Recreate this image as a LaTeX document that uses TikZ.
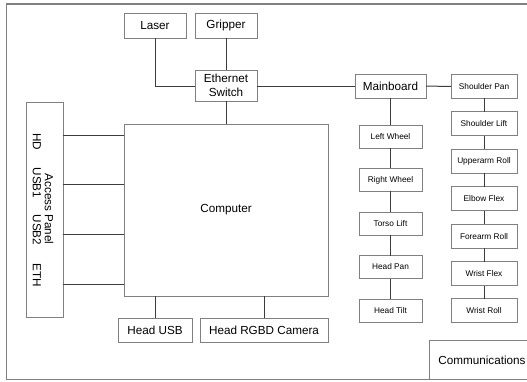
\documentclass[tikz,border=0pt]{standalone}
\usepackage{fontspec}
\setmainfont{Liberation Sans}
\usetikzlibrary{positioning, calc}
\usepackage{xcolor}

\definecolor{boxgray}{HTML}{808080}
\definecolor{linegray}{HTML}{3C3C3C}
\newcommand{\bigfont}{\fontsize{11.7}{13.5}\selectfont}
\newcommand{\smallfont}{\fontsize{8.3}{10}\selectfont}

\begin{document}
\begin{tikzpicture}[
    x=1pt, y=-1pt,
    node distance=20.5pt,
    box/.style={rectangle, draw=boxgray, line width=0.9pt, fill=white, inner sep=0pt, outer sep=0pt, align=center, font=\bigfont},
    motor/.style={box, minimum width=63pt, minimum height=23pt, font=\smallfont},
    joint/.style={motor, minimum width=66pt, minimum height=24pt},
    port/.style={inner sep=0pt, rotate=-90, font=\bigfont},
    link/.style={draw=linegray, line width=1pt},
    frame/.style={draw=boxgray, line width=1.2pt}
]

\useasboundingbox (0,0) rectangle (527,382);
\clip (0,0) rectangle (527,382);

% Frame
\draw[frame] (6.5,4) rectangle (560,379.5);

% Nodes
\node[box, minimum width=62pt, minimum height=25pt] (laser) at (155,25.5) {Laser};
\node[box, minimum width=62pt, minimum height=25pt] (gripper) at (226,25.5) {Gripper};
\node[box, minimum width=62pt, minimum height=31pt] (switch) at (226,85.5) {Ethernet\\Switch};
\node[box, minimum width=204pt, minimum height=172pt] (computer) at (226,210) {Computer};
\node[box, minimum width=37pt, minimum height=215pt] (panel) at (44.5,209.5) {};
\node[box, minimum width=74pt, minimum height=24pt] (headusb) at (155,330) {Head USB};
\node[box, minimum width=128pt, minimum height=24pt] (camera) at (264,330) {Head RGBD Camera};
\node[box, minimum width=71pt, minimum height=24pt] (mainboard) at (390.5,86) {Mainboard};
\node[box, minimum width=106pt, minimum height=39pt] (comms) at (482,360) {Communications};

% Access panel labels
\node[port] (paneltitle) at (49,209) {Access Panel};
\node[port] (hd) at (37,142) {HD};
\node[port] (usbone) at (37,183) {USB1};
\node[port] (usbtwo) at (37,230) {USB2};
\node[port] (eth) at (37,275) {ETH};

% Base motors
\node[motor, below=27pt of mainboard] (lwheel) {Left Wheel};
\node[motor, below=of lwheel] (rwheel) {Right Wheel};
\node[motor, below=of rwheel] (torso) {Torso Lift};
\node[motor, below=of torso] (headpan) {Head Pan};
\node[motor, below=of headpan] (headtilt) {Head Tilt};

% Arm joints
\node[joint] (shpan) at (484,86.5) {Shoulder Pan};
\node[joint, below=13.4pt of shpan] (shlift) {Shoulder Lift};
\node[joint, below=13.4pt of shlift] (uproll) {Upperarm Roll};
\node[joint, below=13.4pt of uproll] (elbow) {Elbow Flex};
\node[joint, below=13.4pt of elbow] (foreroll) {Forearm Roll};
\node[joint, below=13.4pt of foreroll] (wrflex) {Wrist Flex};
\node[joint, below=13.4pt of wrflex] (wrroll) {Wrist Roll};

% Ports on the computer
\coordinate (porthd) at ([yshift=-12pt]computer.north west);
\coordinate (portusbone) at ([yshift=-61pt]computer.north west);
\coordinate (portusbtwo) at ([yshift=-110pt]computer.north west);
\coordinate (porteth) at ([yshift=-160pt]computer.north west);

% Connections
\draw[link] (laser.south) |- ([yshift=-1.5pt]switch.west);
\draw[link] (gripper) -- (switch);
\draw[link] (switch) -- (computer.north -| switch);
\draw[link] ([yshift=-1pt]switch.east) -- ([yshift=-1pt]switch.east -| mainboard.west);
\draw[link] (mainboard) -- (shpan);
\draw[link] (panel.east |- porthd) -- (porthd);
\draw[link] (panel.east |- portusbone) -- (portusbone);
\draw[link] (panel.east |- portusbtwo) -- (portusbtwo);
\draw[link] (panel.east |- porteth) -- (porteth);
\draw[link] (headusb.north) -- (headusb.north |- computer.south);
\draw[link] (camera.north) -- (camera.north |- computer.south);

\draw[link] (mainboard) -- (lwheel);
\draw[link] (lwheel) -- (rwheel);
\draw[link] (rwheel) -- (torso);
\draw[link] (torso) -- (headpan);
\draw[link] (headpan) -- (headtilt);

\draw[link] (shpan) -- (shlift);
\draw[link] (shlift) -- (uproll);
\draw[link] (uproll) -- (elbow);
\draw[link] (elbow) -- (foreroll);
\draw[link] (foreroll) -- (wrflex);
\draw[link] (wrflex) -- (wrroll);

\end{tikzpicture}
\end{document}
